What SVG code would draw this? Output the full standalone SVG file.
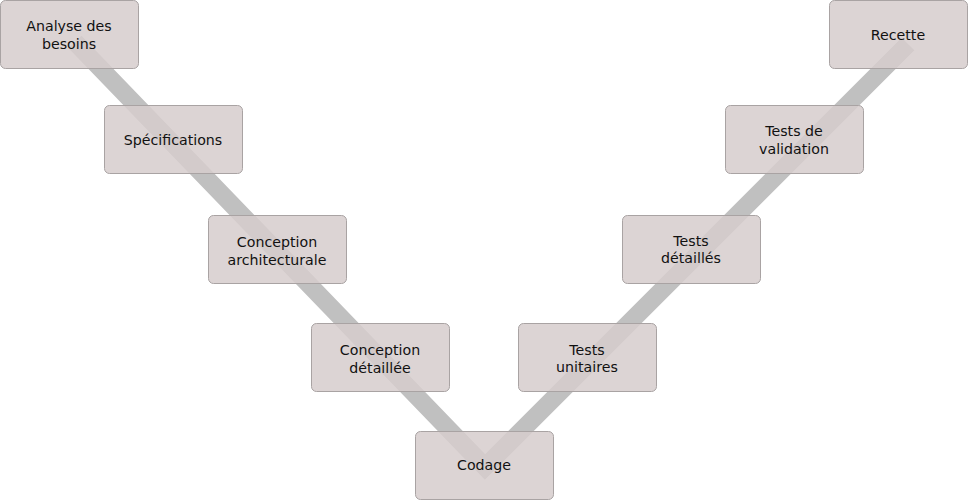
<svg xmlns="http://www.w3.org/2000/svg" width="968" height="500" viewBox="0 0 968 500">
<style>
.node rect{fill:#d6cdcc;fill-opacity:0.85;stroke:#a9a3a3;stroke-width:1}
.node text{font-family:"DejaVu Sans",sans-serif;font-size:14.2px;fill:#111;text-anchor:middle}
.band{fill:none;stroke:#c0c0c0;stroke-width:18;stroke-linejoin:miter;stroke-linecap:butt}
</style>
<rect width="968" height="500" fill="#ffffff"/>
<g id="connectors">
<polyline class="band" points="75,42 485,467 908,44"/>
</g>
<g id="n1" class="node"><rect x="0.5" y="0.5" width="138" height="68" rx="5"/><text x="69" y="31">Analyse des</text><text x="69" y="49">besoins</text></g>
<g id="n2" class="node"><rect x="104.5" y="105.5" width="138" height="68" rx="5"/><text x="173" y="145">Spécifications</text></g>
<g id="n3" class="node"><rect x="208.5" y="215.5" width="138" height="68" rx="5"/><text x="277" y="247">Conception</text><text x="277" y="265">architecturale</text></g>
<g id="n4" class="node"><rect x="311.5" y="323.5" width="138" height="68" rx="5"/><text x="380" y="355">Conception</text><text x="380" y="373">détaillée</text></g>
<g id="n5" class="node"><rect x="415.5" y="431.5" width="138" height="68" rx="5"/><text x="484" y="470">Codage</text></g>
<g id="n6" class="node"><rect x="518.5" y="323.5" width="138" height="68" rx="5"/><text x="587" y="355">Tests</text><text x="587" y="372">unitaires</text></g>
<g id="n7" class="node"><rect x="622.5" y="215.5" width="138" height="68" rx="5"/><text x="691" y="246">Tests</text><text x="691" y="263">détaillés</text></g>
<g id="n8" class="node"><rect x="725.5" y="105.5" width="138" height="68" rx="5"/><text x="794" y="136">Tests de</text><text x="794" y="154">validation</text></g>
<g id="n9" class="node"><rect x="829.5" y="0.5" width="138" height="68" rx="5"/><text x="898" y="40">Recette</text></g>
</svg>
